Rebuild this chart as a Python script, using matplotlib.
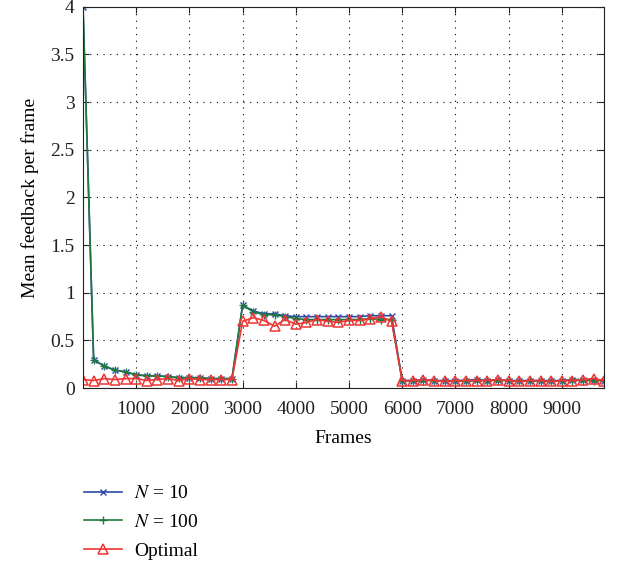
import numpy as np
import matplotlib.pyplot as plt

plt.rcParams['font.family'] = ['Liberation Serif', 'DejaVu Serif']
plt.rcParams['mathtext.fontset'] = 'stix'

# frame index of every sample (one point every 200 frames)
frames = np.arange(0, 9801, 200)

n10 = [4.00, 0.30, 0.23, 0.19, 0.17, 0.14, 0.13, 0.13, 0.12, 0.11,
       0.11, 0.11, 0.10, 0.10, 0.10,
       0.87, 0.81, 0.78, 0.78, 0.76, 0.75, 0.75, 0.75, 0.75, 0.75,
       0.75, 0.75, 0.76, 0.76, 0.76,
       0.08, 0.08, 0.09, 0.08, 0.08, 0.08, 0.08, 0.09, 0.08, 0.09,
       0.08, 0.08, 0.08, 0.08, 0.08, 0.08, 0.09, 0.09, 0.09, 0.08]

n100 = [4.00, 0.30, 0.23, 0.19, 0.17, 0.14, 0.13, 0.13, 0.12, 0.11,
        0.11, 0.11, 0.10, 0.10, 0.10,
        0.87, 0.80, 0.77, 0.77, 0.75, 0.73, 0.72, 0.72, 0.72, 0.72,
        0.72, 0.72, 0.73, 0.72, 0.72,
        0.08, 0.07, 0.08, 0.08, 0.07, 0.08, 0.07, 0.08, 0.08, 0.08,
        0.08, 0.07, 0.08, 0.07, 0.07, 0.08, 0.08, 0.08, 0.08, 0.08]

optimal = [0.09, 0.08, 0.10, 0.09, 0.10, 0.10, 0.08, 0.09, 0.10, 0.08,
           0.10, 0.09, 0.09, 0.09, 0.09,
           0.70, 0.74, 0.71, 0.65, 0.72, 0.67, 0.69, 0.72, 0.70, 0.69,
           0.71, 0.71, 0.73, 0.75, 0.70,
           0.08, 0.08, 0.09, 0.08, 0.07, 0.08, 0.08, 0.08, 0.08, 0.09,
           0.08, 0.07, 0.08, 0.08, 0.07, 0.08, 0.08, 0.09, 0.10, 0.08]

fs = 14

fig = plt.figure(figsize=(6.17, 5.65), dpi=100)
ax = fig.add_axes([0.1345, 0.313, 0.845, 0.675])

ax.plot(frames, n10, color='#2b4aa8', marker='x', markersize=5,
        linewidth=1.2, label='$N$ = 10')
ax.plot(frames, n100, color='#1f7a3c', marker='+', markersize=6,
        linewidth=1.2, label='$N$ = 100')
ax.plot(frames, optimal, color='#ef3535', marker='^', markersize=7,
        markerfacecolor='none', markeredgewidth=1.1, linewidth=1.2,
        label='Optimal')

ax.set_xlim(0, 9800)
ax.set_ylim(0, 4)
ax.set_xticks(np.arange(1000, 9001, 1000))
ax.set_yticks(np.arange(0, 4.01, 0.5))
ax.set_yticklabels(['0', '0.5', '1', '1.5', '2', '2.5', '3', '3.5', '4'])
ax.tick_params(direction='in', top=True, right=True, labelsize=fs,
               length=4, colors='#222222')
ax.tick_params(axis='x', pad=9)
ax.tick_params(axis='y', pad=6)
ax.grid(True, color='black', linestyle=(0, (1, 5)), linewidth=0.8)
for s in ax.spines.values():
    s.set_color('#222222')

ax.set_xlabel('Frames', fontsize=fs, labelpad=9)
ax.set_ylabel('Mean feedback per frame', fontsize=fs, labelpad=8)

fig.legend(loc='upper left', bbox_to_anchor=(0.136, 0.142), frameon=False,
           fontsize=fs, handlelength=1.95, handletextpad=0.65,
           labelspacing=0.58, borderpad=0, borderaxespad=0)

fig.savefig('out.png', dpi=100)
